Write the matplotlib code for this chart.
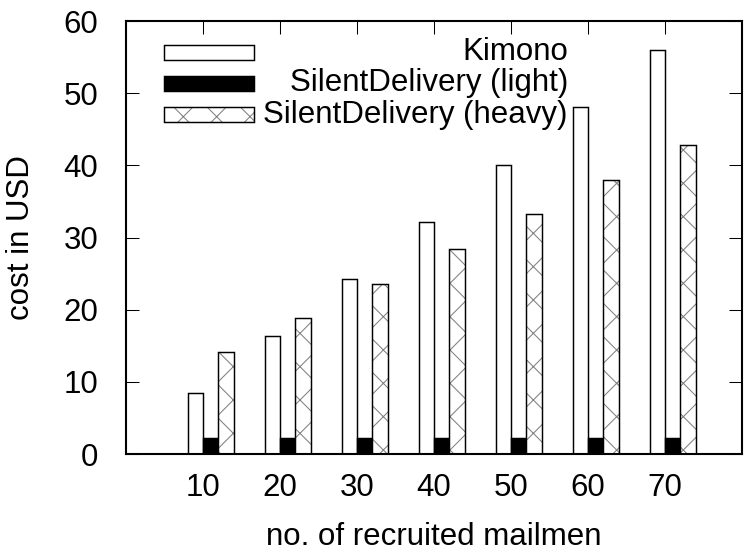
import numpy as np
import matplotlib
matplotlib.use("Agg")
import matplotlib.pyplot as plt
from matplotlib.patches import Rectangle

# values
mailmen = [10, 20, 30, 40, 50, 60, 70]
kimono = [8.5, 16.4, 24.3, 32.2, 40.1, 48.1, 56.0]
sd_light = [2.15, 2.15, 2.15, 2.15, 2.15, 2.15, 2.15]
sd_heavy = [14.1, 18.8, 23.6, 28.4, 33.2, 38.0, 42.8]
series_names = ["Kimono", "SilentDelivery (light)", "SilentDelivery (heavy)"]

plt.rcParams['font.family'] = ['Liberation Sans', 'DejaVu Sans']
plt.rcParams['hatch.linewidth'] = 0.75
plt.rcParams['hatch.color'] = '#808080'

DPI = 100
FS = 22.5
fig = plt.figure(figsize=(753 / DPI, 553 / DPI), dpi=DPI)
ax = fig.add_axes([0.1673, 0.1790, 0.8181, 0.7830])

x = np.arange(len(mailmen))
w = 0.2
edge_lw = 1.05

ax.bar(x - 0.1, kimono, w, color='white', edgecolor='black', linewidth=edge_lw)
ax.bar(x + 0.1, sd_light, w, color='black', edgecolor='black', linewidth=edge_lw)
# hatched bars: gray hatch, black outline on top
ax.bar(x + 0.3, sd_heavy, w, color='white', edgecolor='#808080', hatch='x', linewidth=0)
ax.bar(x + 0.3, sd_heavy, w, fill=False, edgecolor='black', linewidth=edge_lw)

ax.set_xlim(-1, 7)
ax.set_ylim(0, 60)
ax.set_xticks(x)
ax.set_xticklabels([str(m) for m in mailmen])
ax.set_yticks(np.arange(0, 61, 10))

for s in ax.spines.values():
    s.set_linewidth(1.5)

ax.tick_params(axis='both', direction='in', length=9.5, width=0.75,
               labelsize=FS, top=True, right=True)
ax.tick_params(axis='x', pad=14)
ax.tick_params(axis='y', pad=20)

ax.set_xlabel("no. of recruited mailmen", fontsize=FS, labelpad=13)
ax.set_ylabel("cost in USD", fontsize=FS, labelpad=20)

# gnuplot-like key: sample boxes on the left, text right-aligned
bx0, bw, bh = 0.0617, 0.1461, 0.0346
text_x = 0.7175
rows_y = [0.9284, 0.856, 0.784]
styles = [
    dict(facecolor='white', edgecolor='black'),
    dict(facecolor='black', edgecolor='black'),
    None,
]
for name, yc, st in zip(series_names, rows_y, styles):
    if st is None:
        ax.add_patch(Rectangle((bx0, yc - bh / 2), bw, bh, transform=ax.transAxes,
                               facecolor='white', edgecolor='#808080', hatch='x',
                               linewidth=0, clip_on=False))
        ax.add_patch(Rectangle((bx0, yc - bh / 2), bw, bh, transform=ax.transAxes,
                               fill=False, edgecolor='black', linewidth=edge_lw,
                               clip_on=False))
    else:
        ax.add_patch(Rectangle((bx0, yc - bh / 2), bw, bh, transform=ax.transAxes,
                               linewidth=edge_lw, clip_on=False, **st))
    ax.text(text_x, yc, name, transform=ax.transAxes, ha='right', va='center',
            fontsize=FS)

fig.savefig("out.png", dpi=DPI)
